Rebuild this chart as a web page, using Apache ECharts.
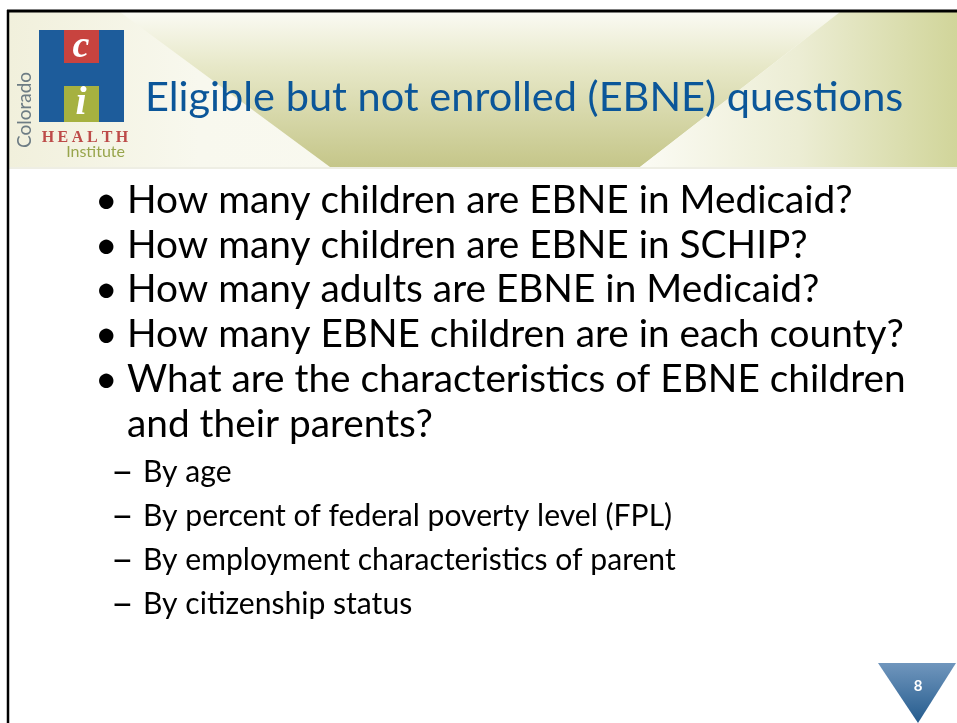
<!DOCTYPE html>
<html>
<head>
<meta charset="utf-8">
<title>EBNE questions</title>
<script src="https://cdn.jsdelivr.net/npm/echarts@6/dist/echarts.min.js"></script>
<style>
  html, body { margin: 0; padding: 0; background: #ffffff; }
  #slide { width: 957px; height: 723px; }
</style>
</head>
<body>
<div id="slide"></div>
<script>
  // slide texts
  var titleText = 'Eligible but not enrolled (EBNE) questions';
  var bullets = [
    ['How many children are EBNE in Medicaid?'],
    ['How many children are EBNE in SCHIP?'],
    ['How many adults are EBNE in Medicaid?'],
    ['How many EBNE children are in each county?'],
    ['What are the characteristics of EBNE children', 'and their parents?']
  ];
  var subBullets = [
    'By age',
    'By percent of federal poverty level (FPL)',
    'By employment characteristics of parent',
    'By citizenship status'
  ];
  var logoWords = ['Colorado', 'HEALTH', 'Institute'];
  var pageNumber = '8';

  var FONT = 'Lato, "Open Sans", sans-serif';
  var SERIF = '"Liberation Serif", "DejaVu Serif", serif';

  // size a font so a line takes the width it has on the slide
  var ctx = document.createElement('canvas').getContext('2d');
  function fitSize(text, weight, family, width) {
    ctx.font = weight + ' 100px ' + family;
    return 100 * width / ctx.measureText(text).width;
  }

  var titleSize = fitSize(titleText, 'normal', FONT, 758);
  var bulletSize = fitSize(bullets[3][0], 'normal', FONT, 776);
  var subSize = fitSize(subBullets[1], 'normal', FONT, 530);

  var els = [];

  // header background
  els.push({
    type: 'rect', shape: { x: 9, y: 12, width: 948, height: 155 },
    style: { fill: new echarts.graphic.LinearGradient(0, 0, 1, 0, [
      { offset: 0, color: '#f1f0dc' }, { offset: 0.2, color: '#f8f8ee' }, { offset: 1, color: '#fbfbf5' }
    ]) }
  });
  // olive band
  els.push({
    type: 'polygon', shape: { points: [[120, 12], [840, 12], [640, 167], [330, 167]] },
    style: { fill: new echarts.graphic.LinearGradient(0, 0, 0, 1, [
      { offset: 0, color: '#fafaf3' }, { offset: 0.35, color: '#e7e8c8' }, { offset: 1, color: '#c5c689' }
    ]) }
  });
  // right olive panel
  els.push({
    type: 'polygon', shape: { points: [[840, 12], [957, 12], [957, 167], [640, 167]] },
    style: { fill: new echarts.graphic.LinearGradient(640, 0, 957, 0, [
      { offset: 0, color: '#fbfbf4' }, { offset: 0.5, color: '#ecedd4' }, { offset: 1, color: '#d1d59a' }
    ], true) }
  });
  els.push({
    type: 'line', shape: { x1: 9, y1: 168, x2: 957, y2: 168 },
    style: { stroke: '#eeeee4', lineWidth: 2 }
  });

  // slide border
  els.push({ type: 'line', shape: { x1: 7, y1: 11, x2: 957, y2: 11 }, style: { stroke: '#000', lineWidth: 3 } });
  els.push({ type: 'line', shape: { x1: 8, y1: 10, x2: 8, y2: 723 }, style: { stroke: '#000', lineWidth: 2.5 } });

  // logo
  els.push({ type: 'rect', shape: { x: 39, y: 30, width: 85, height: 92 }, style: { fill: '#1d5c9b' } });
  els.push({ type: 'rect', shape: { x: 64, y: 30, width: 35, height: 33 }, style: { fill: '#c8433f' } });
  els.push({ type: 'rect', shape: { x: 64, y: 86, width: 35, height: 36 }, style: { fill: '#a6b140' } });
  els.push({
    type: 'text', style: { text: 'c', x: 81, y: 47, fill: '#ffffff', font: 'italic bold 38px ' + SERIF,
      align: 'center', verticalAlign: 'middle' }
  });
  els.push({
    type: 'text', style: { text: 'i', x: 81, y: 104, fill: '#ffffff', font: 'italic bold 40px ' + SERIF,
      align: 'center', verticalAlign: 'middle' }
  });
  els.push({
    type: 'text', x: 25, y: 110, rotation: Math.PI / 2,
    style: { text: logoWords[0], x: 0, y: 0, fill: '#6d7c84',
      font: 'normal ' + fitSize(logoWords[0], 'normal', FONT, 76).toFixed(1) + 'px ' + FONT,
      align: 'center', verticalAlign: 'middle' }
  });
  var health = logoWords[1].split('');
  health.forEach(function (ch, i) {
    els.push({
      type: 'text', style: { text: ch, x: 48 + i * 14.8, y: 138, fill: '#bd4b49',
        font: 'bold 16px ' + SERIF, align: 'center', verticalAlign: 'middle' }
    });
  });
  els.push({
    type: 'text', style: { text: logoWords[2], x: 125, y: 152, fill: '#98a54c',
      font: 'normal ' + fitSize(logoWords[2], 'normal', FONT, 59).toFixed(1) + 'px ' + FONT,
      align: 'right', verticalAlign: 'middle' }
  });

  // title
  els.push({
    type: 'text', style: { text: titleText, x: 145, y: 119, fill: '#0b5699',
      font: 'normal ' + titleSize.toFixed(1) + 'px ' + FONT, align: 'left', verticalAlign: 'bottom' }
  });

  // bullets
  var lineStep = 44.8;
  var row = 0;
  var baseTop = 213;
  bullets.forEach(function (lines) {
    var yb = baseTop + row * lineStep;
    els.push({
      type: 'text', style: { text: '\u2022', x: 95, y: yb - bulletSize * 0.33, fill: '#000',
        font: 'normal ' + bulletSize.toFixed(1) + 'px ' + FONT, align: 'left', verticalAlign: 'middle' }
    });
    lines.forEach(function (ln) {
      els.push({
        type: 'text', style: { text: ln, x: 127, y: baseTop + row * lineStep - bulletSize * 0.33, fill: '#000',
          font: 'normal ' + bulletSize.toFixed(1) + 'px ' + FONT, align: 'left', verticalAlign: 'middle' }
      });
      row++;
    });
  });
  subBullets.forEach(function (s, i) {
    var yb = baseTop + row * lineStep - 0.5 * i;
    els.push({
      type: 'text', style: { text: '\u2013', x: 111, y: yb - subSize * 0.36, fill: '#000',
        font: 'normal ' + (subSize * 1.3).toFixed(1) + 'px ' + FONT, align: 'left', verticalAlign: 'middle' }
    });
    els.push({
      type: 'text', style: { text: s, x: 143, y: yb - subSize * 0.33, fill: '#000',
        font: 'normal ' + subSize.toFixed(1) + 'px ' + FONT, align: 'left', verticalAlign: 'middle' }
    });
    row++;
  });

  // page number badge
  els.push({
    type: 'polygon', shape: { points: [[878, 663], [956, 663], [918, 723]] },
    style: { fill: new echarts.graphic.LinearGradient(0, 0, 0, 1, [
      { offset: 0, color: '#7096bd' }, { offset: 1, color: '#245b8d' }
    ]) }
  });
  els.push({
    type: 'text', style: { text: pageNumber, x: 918, y: 686, fill: '#ffffff',
      font: 'bold 15px ' + FONT, align: 'center', verticalAlign: 'middle' }
  });

  var chart = echarts.init(document.getElementById('slide'));
  chart.setOption({
    backgroundColor: '#ffffff',
    animation: false,
    graphic: { elements: els }
  });
</script>
</body>
</html>
